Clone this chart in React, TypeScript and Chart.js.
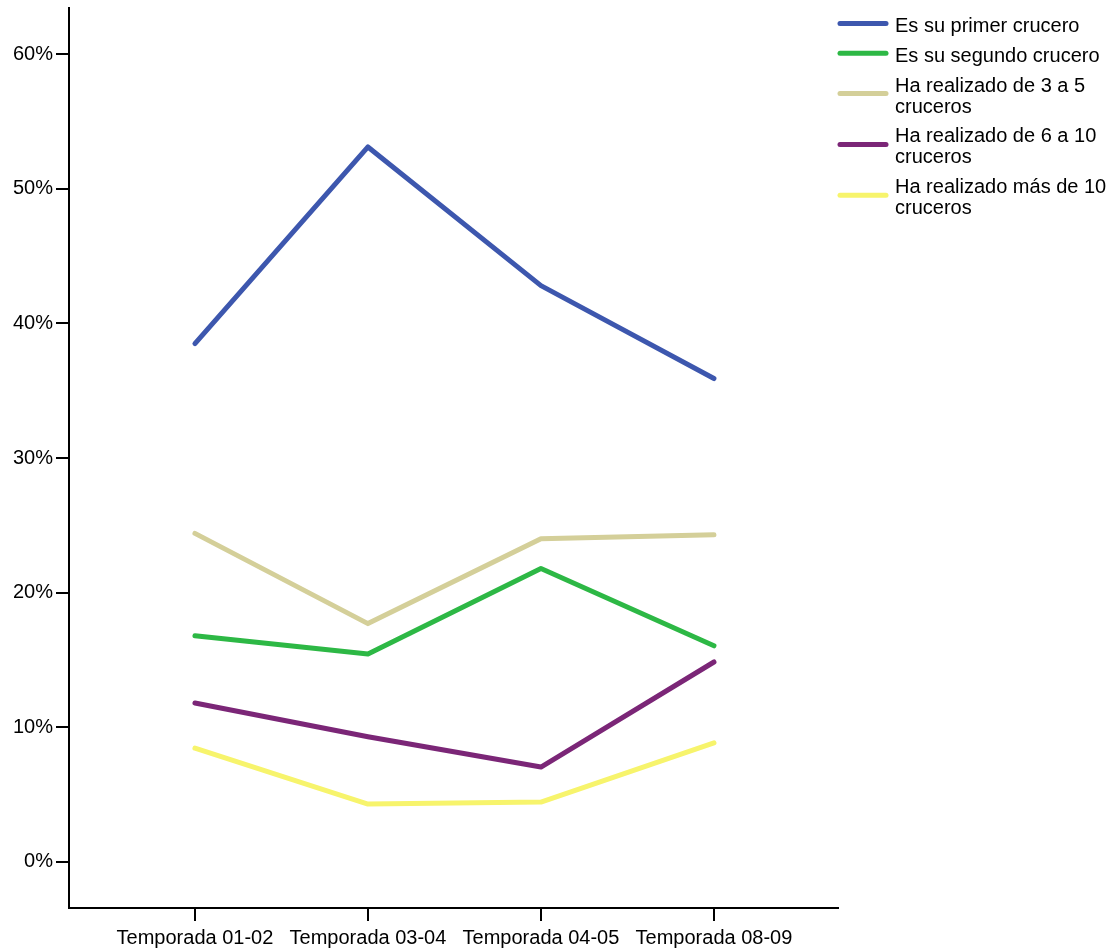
import React, { useEffect, useRef } from "react";
import { Chart, registerables } from "chart.js";

Chart.register(...registerables);

const categories = ["Temporada 01-02", "Temporada 03-04", "Temporada 04-05", "Temporada 08-09"];
const seriesLabels = [
  "Es su primer crucero",
  "Es su segundo crucero",
  "Ha realizado de 3 a 5 cruceros",
  "Ha realizado de 6 a 10 cruceros",
  "Ha realizado más de 10 cruceros",
];
const primero = [38.5, 53.1, 42.8, 35.9];
const segundo = [16.8, 15.45, 21.8, 16.05];
const tresCinco = [24.4, 17.7, 24.0, 24.3];
const seisDiez = [11.8, 9.3, 7.05, 14.85];
const masDiez = [8.45, 4.3, 4.45, 8.85];
const seriesColors = ["#3d57ae", "#2db845", "#d4cf99", "#7b2677", "#f7f46c"];
const yTicks = [0, 10, 20, 30, 40, 50, 60];

const FONT = "'Liberation Sans', Arial, sans-serif";

const legendPlugin = {
  id: "customLegend",
  afterDraw(chart: any) {
    const ctx = chart.ctx as CanvasRenderingContext2D;
    const sampleX1 = 838;
    const sampleX2 = 888;
    const textX = 895;
    const maxW = chart.width - textX - 1;
    const lineH = 21;
    const gap = 8.8;
    let y = 16;
    ctx.save();
    ctx.font = `20px ${FONT}`;
    ctx.textBaseline = "middle";
    ctx.textAlign = "left";
    chart.data.datasets.forEach((ds: any) => {
      const words = String(ds.label).split(" ");
      const lines: string[] = [];
      let cur = "";
      words.forEach((w) => {
        const t = cur ? cur + " " + w : w;
        if (ctx.measureText(t).width > maxW && cur) {
          lines.push(cur);
          cur = w;
        } else cur = t;
      });
      if (cur) lines.push(cur);
      const blockH = lines.length * lineH;
      const firstY = y + lineH / 2;
      const lastY = y + lineH * (lines.length - 1) + lineH / 2;
      const cy = (firstY + lastY) / 2 - 3;
      ctx.strokeStyle = ds.borderColor;
      ctx.lineWidth = 5;
      ctx.lineCap = "round";
      ctx.beginPath();
      ctx.moveTo(sampleX1 + 2, cy);
      ctx.lineTo(sampleX2 - 2, cy);
      ctx.stroke();
      ctx.fillStyle = "#000";
      lines.forEach((l, i) => {
        ctx.fillText(l, textX, y + lineH * i + lineH / 2);
      });
      y += blockH + gap;
    });
    ctx.restore();
  },
};

export default function App() {
  const ref = useRef<HTMLCanvasElement>(null);
  useEffect(() => {
    const allData = [primero, segundo, tresCinco, seisDiez, masDiez];
    const chart = new Chart(ref.current!, {
      type: "line",
      data: {
        datasets: allData.map((arr, i) => ({
          label: seriesLabels[i],
          data: arr.map((v, j) => ({ x: j, y: v })),
          borderColor: seriesColors[i],
          backgroundColor: seriesColors[i],
          borderWidth: 5,
          borderCapStyle: "round" as const,
          borderJoinStyle: "round" as const,
          pointRadius: 0,
          tension: 0,
        })),
      },
      options: {
        animation: false,
        responsive: false,
        events: [],
        layout: { padding: { left: 0, right: 273, top: 8, bottom: 0 } },
        plugins: { legend: { display: false }, tooltip: { enabled: false } },
        scales: {
          x: {
            type: "linear",
            min: -0.728,
            max: 3.717,
            afterBuildTicks: (s: any) => {
              s.ticks = categories.map((_, i) => ({ value: i }));
            },
            afterFit: (s: any) => {
              s.height = 42;
              s.paddingLeft = 0;
              s.paddingRight = 0;
              s.paddingTop = 0;
              s.paddingBottom = 0;
            },
            ticks: {
              callback: (v: any) => categories[v as number] ?? "",
              color: "#000",
              font: { family: FONT, size: 20 },
              padding: 5,
              maxRotation: 0,
              autoSkip: false,
            },
            grid: {
              display: true,
              drawOnChartArea: false,
              drawTicks: true,
              tickLength: 13,
              color: "#000",
              lineWidth: 2,
            },
            border: { display: true, color: "#000", width: 2 },
          },
          y: {
            type: "linear",
            min: -3.42,
            max: 63.42,
            afterBuildTicks: (s: any) => {
              s.ticks = yTicks.map((v) => ({ value: v }));
            },
            afterFit: (s: any) => {
              s.width = 69;
              s.paddingTop = 0;
              s.paddingBottom = 0;
              s.paddingLeft = 0;
              s.paddingRight = 0;
            },
            ticks: {
              callback: (v: any) => `${v}%`,
              color: "#000",
              font: { family: FONT, size: 20 },
              padding: 3,
            },
            grid: {
              display: true,
              drawOnChartArea: false,
              drawTicks: true,
              tickLength: 13,
              color: "#000",
              lineWidth: 2,
            },
            border: { display: true, color: "#000", width: 2 },
          },
        },
      },
      plugins: [legendPlugin],
    });
    return () => chart.destroy();
  }, []);
  return (
    <div style={{ position: "fixed", left: 0, top: 0, width: 1111, height: 950, background: "#fff" }}>
      <canvas ref={ref} width={1111} height={950} style={{ width: 1111, height: 950 }} />
    </div>
  );
}
